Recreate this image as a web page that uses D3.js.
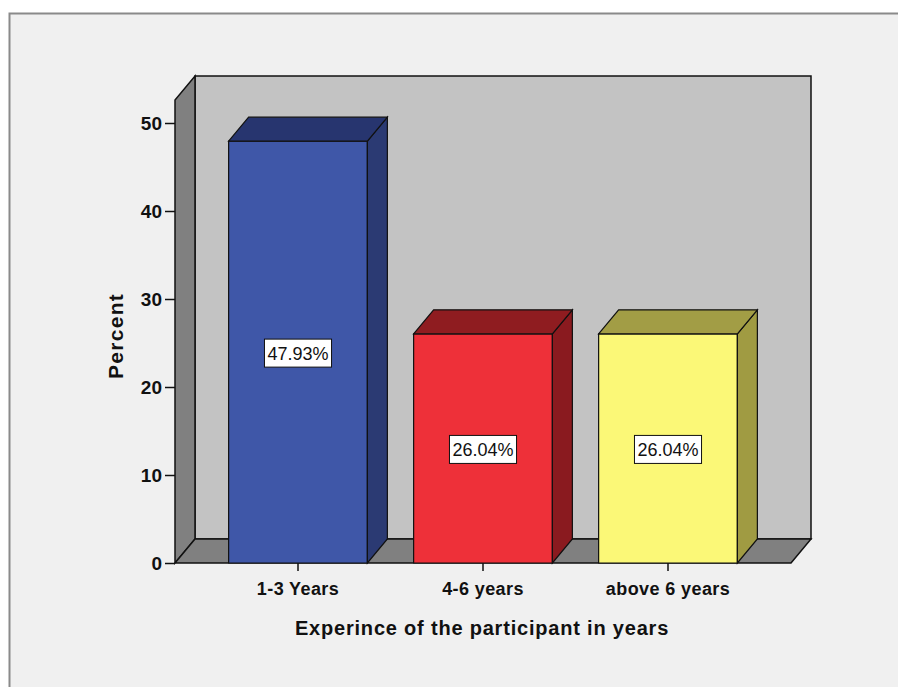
<!DOCTYPE html>
<html>
<head>
<meta charset="utf-8">
<script src="https://cdn.jsdelivr.net/npm/d3@7"></script>
<style>
  html, body { margin: 0; padding: 0; background: #ffffff; }
  svg { display: block; }
</style>
</head>
<body>
<svg id="chart" width="898" height="687"></svg>
<script>
// Chart data
const categories = ["1-3 Years", "4-6 years", "above 6 years"];
const percents = [47.93, 26.04, 26.04];
const yTicks = [0, 10, 20, 30, 40, 50];
const faceColors = ["#3f57a8", "#ee3039", "#fbf877"];
const topColors = ["#27356f", "#8f1c20", "#a29d45"];
const sideColors = ["#2b3a73", "#8a1a1f", "#a09b42"];
const xTitle = "Experince of the participant in years";
const yTitle = "Percent";

const W = 898, H = 687;
const FONT = "Liberation Sans, Arial, sans-serif";
const svg = d3.select("#chart");

// panel background with frame
svg.append("rect").attr("x", 0).attr("y", 0).attr("width", W).attr("height", H).attr("fill", "#ffffff");
svg.append("rect").attr("x", 9.5).attr("y", 13.5).attr("width", W + 20).attr("height", H + 20)
  .attr("fill", "#f0f0f0").attr("stroke", "#8a8a8a").attr("stroke-width", 2);

// 3D frame geometry
const depthX = 20, depthY = -24;
const floorLeft = 175, floorRight = 791;
const y = d3.scaleLinear().domain([0, 50]).range([563, 123]);
const wallTopValue = 52.6;
const x = d3.scaleBand().domain(categories).range([205.5, 760.5]).paddingInner(0.25).paddingOuter(0.125);

const line = d3.line();
const stroke = "#111";

// back wall
svg.append("path")
  .attr("d", line([[floorLeft + depthX, y(0) + depthY], [floorLeft + depthX, y(wallTopValue) + depthY],
                   [floorRight + depthX, y(wallTopValue) + depthY], [floorRight + depthX, y(0) + depthY]]) + "Z")
  .attr("fill", "#c3c3c3").attr("stroke", stroke).attr("stroke-width", 1.5);

// left wall
svg.append("path")
  .attr("d", line([[floorLeft, y(0)], [floorLeft, y(wallTopValue)],
                   [floorLeft + depthX, y(wallTopValue) + depthY], [floorLeft + depthX, y(0) + depthY]]) + "Z")
  .attr("fill", "#808080").attr("stroke", stroke).attr("stroke-width", 1.5);

// floor
svg.append("path")
  .attr("d", line([[floorLeft, y(0)], [floorRight, y(0)],
                   [floorRight + depthX, y(0) + depthY], [floorLeft + depthX, y(0) + depthY]]) + "Z")
  .attr("fill", "#808080").attr("stroke", stroke).attr("stroke-width", 1.5);

// bars
const bars = svg.append("g").selectAll("g").data(percents).join("g");
bars.each(function(v, i) {
  const g = d3.select(this);
  const x0 = x(categories[i]), x1 = x0 + x.bandwidth();
  const yt = y(v), yb = y(0);
  // front face
  g.append("path").attr("d", line([[x0, yb], [x0, yt], [x1, yt], [x1, yb]]) + "Z")
    .attr("fill", faceColors[i]).attr("stroke", stroke).attr("stroke-width", 1.2);
  // right side
  g.append("path").attr("d", line([[x1, yb], [x1, yt], [x1 + depthX, yt + depthY], [x1 + depthX, yb + depthY]]) + "Z")
    .attr("fill", sideColors[i]).attr("stroke", stroke).attr("stroke-width", 1.2);
  // top
  g.append("path").attr("d", line([[x0, yt], [x0 + depthX, yt + depthY], [x1 + depthX, yt + depthY], [x1, yt]]) + "Z")
    .attr("fill", topColors[i]).attr("stroke", stroke).attr("stroke-width", 1.2);
  // value label
  const cx = (x0 + x1) / 2, cy = y(v / 2) + 1;
  const txt = v.toFixed(2) + "%";
  const t = g.append("text").attr("x", cx).attr("y", cy + 6.5).attr("text-anchor", "middle")
    .attr("font-family", FONT).attr("font-size", 18).attr("fill", "#111").text(txt);
  const bb = t.node().getBBox();
  g.insert("rect", "text").attr("x", bb.x - 3).attr("y", cy - 14).attr("width", bb.width + 6).attr("height", 28)
    .attr("fill", "#ffffff").attr("stroke", "#111").attr("stroke-width", 1);
});

// y axis
const yAxis = svg.append("g").attr("transform", `translate(${floorLeft},0)`)
  .call(d3.axisLeft(y).tickValues(yTicks).tickSize(10).tickPadding(3).tickFormat(d3.format("d")));
yAxis.select(".domain").remove();
yAxis.selectAll("line").attr("stroke", "#111").attr("stroke-width", 1.5);
yAxis.selectAll("text").attr("font-family", FONT)
  .attr("font-size", 19).attr("font-weight", "bold").attr("fill", "#111");

// x axis
const xAxis = svg.append("g").attr("transform", `translate(0,${y(0)})`)
  .call(d3.axisBottom(x).tickSize(8).tickPadding(11));
xAxis.select(".domain").remove();
xAxis.selectAll("line").attr("stroke", "#111").attr("stroke-width", 1.5);
xAxis.selectAll("text").attr("font-family", FONT)
  .attr("font-size", 18).attr("font-weight", "bold").attr("letter-spacing", 0.4).attr("fill", "#111");

// axis titles
svg.append("text").attr("x", 482).attr("y", 635).attr("text-anchor", "middle")
  .attr("font-family", FONT).attr("font-size", 20).attr("font-weight", "bold").attr("letter-spacing", 0.8)
  .attr("fill", "#111").text(xTitle);
svg.append("text").attr("transform", "translate(123,336) rotate(-90)").attr("text-anchor", "middle")
  .attr("font-family", FONT).attr("font-size", 21).attr("font-weight", "bold").attr("letter-spacing", 1.3)
  .attr("fill", "#111").text(yTitle);
</script>
</body>
</html>
